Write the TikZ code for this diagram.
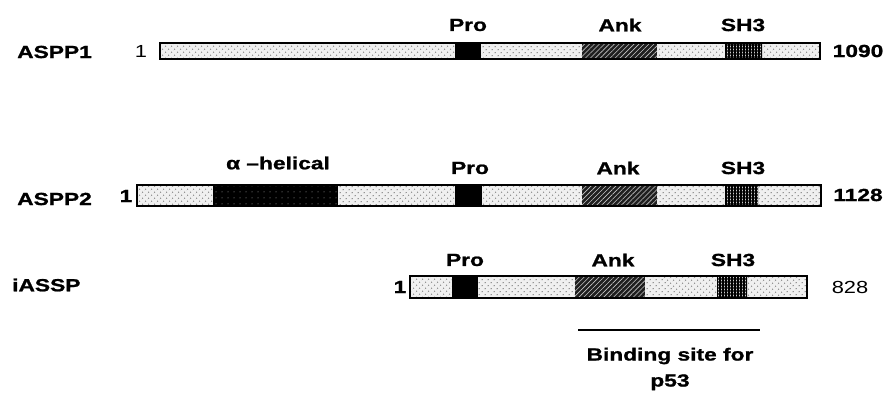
\documentclass[tikz,border=0pt]{standalone}
\usepackage{fontspec}
\setmainfont{Liberation Sans}[FakeStretch=1.3, BoldFeatures={FakeBold=1.2}]
\newfontfamily\plainfont{Liberation Sans}[FakeStretch=1.25]
\usetikzlibrary{patterns.meta}
\begin{document}
\begin{tikzpicture}[x=1pt,y=-1pt,
  lbl/.style={font=\fontsize{17.5}{19}\selectfont\bfseries, inner sep=0pt},
  num/.style={font=\fontsize{17.5}{19}\selectfont\bfseries, inner sep=0pt},
  thin num/.style={font=\fontsize{17.5}{19}\selectfont\plainfont, inner sep=0pt},
  light/.style={pattern={Dots[radius=0.8pt,distance=4pt,angle=45]}, pattern color=gray!90},
  lightbg/.style={fill=gray!12},
  pro/.style={fill=black},
  ank/.style={fill=black!88},
  ankhatch/.style={pattern={Lines[angle=45,distance=3.5pt,line width=0.6pt]}, pattern color=gray!45},
  shbg/.style={fill=gray!40},
  shhatch/.style={pattern={Hatch[distance=3pt,line width=1.1pt]}, pattern color=black},
  helixbg/.style={fill=black},
  helixdots/.style={pattern={Dots[radius=0.5pt,distance=6pt]}, pattern color=gray!60},
  barline/.style={draw=black, line width=1.5pt},
]
\useasboundingbox (0,0) rectangle (887,396);

% ---- ASPP1 ----
\node[lbl, anchor=west] (n1) at (17,52) {ASPP1};
\node[thin num] (s1) at (141,51) {1};
\fill[lightbg] (160,43) rectangle (820,59);
\fill[light] (160,43) rectangle (820,59);
\fill[pro] (455,43) rectangle (481,59);
\fill[ank] (582,43) rectangle (657,59);
\fill[ankhatch] (582,43) rectangle (657,59);
\fill[shbg] (725,43) rectangle (762,59);
\fill[shhatch] (725,43) rectangle (762,59);
\draw[barline] (160,43) rectangle (820,59);
\node[num] (e1) at (858,51) {1090};
\node[lbl] (p1) at (468,25) {Pro};
\node[lbl] (a1) at (620,25) {Ank};
\node[lbl] (h1) at (743,25) {SH3};

% ---- ASPP2 ----
\node[lbl, anchor=west] (n2) at (17,199) {ASPP2};
\node[num] (s2) at (126,196) {1};
\fill[lightbg] (137,185) rectangle (821,206);
\fill[light] (137,185) rectangle (821,206);
\fill[helixbg] (213,185) rectangle (338,206);
\fill[helixdots] (213,185) rectangle (338,206);
\fill[pro] (455,185) rectangle (482,206);
\fill[ank] (582,185) rectangle (657,206);
\fill[ankhatch] (582,185) rectangle (657,206);
\fill[shbg] (725,185) rectangle (758,206);
\fill[shhatch] (725,185) rectangle (758,206);
\draw[barline] (137,185) rectangle (821,206);
\node[num] (e2) at (858,195) {1128};
\node[lbl] (al2) at (278,163) {α –helical};
\node[lbl] (p2) at (470,168) {Pro};
\node[lbl] (a2) at (618,168) {Ank};
\node[lbl] (h2) at (743,168) {SH3};

% ---- iASSP ----
\node[lbl, anchor=west] (n3) at (12,285) {iASSP};
\node[num] (s3) at (400,287) {1};
\fill[lightbg] (410,276) rectangle (807,298);
\fill[light] (410,276) rectangle (807,298);
\fill[pro] (452,276) rectangle (478,298);
\fill[ank] (575,276) rectangle (645,298);
\fill[ankhatch] (575,276) rectangle (645,298);
\fill[shbg] (717,276) rectangle (747,298);
\fill[shhatch] (717,276) rectangle (747,298);
\draw[barline] (410,276) rectangle (807,298);
\node[thin num] (e3) at (850,287) {828};
\node[lbl] (p3) at (465,260) {Pro};
\node[lbl] (a3) at (613,260) {Ank};
\node[lbl] (h3) at (733,260) {SH3};

% ---- p53 binding region ----
\coordinate (b0) at (578,330);
\coordinate (b1) at (760,330);
\draw[line width=1.3pt] (b0) -- (b1);
\node[lbl, align=center, font=\fontsize{17.5}{26}\selectfont\bfseries] (bs) at (670,369) {Binding site for\\p53};
\end{tikzpicture}
\end{document}
